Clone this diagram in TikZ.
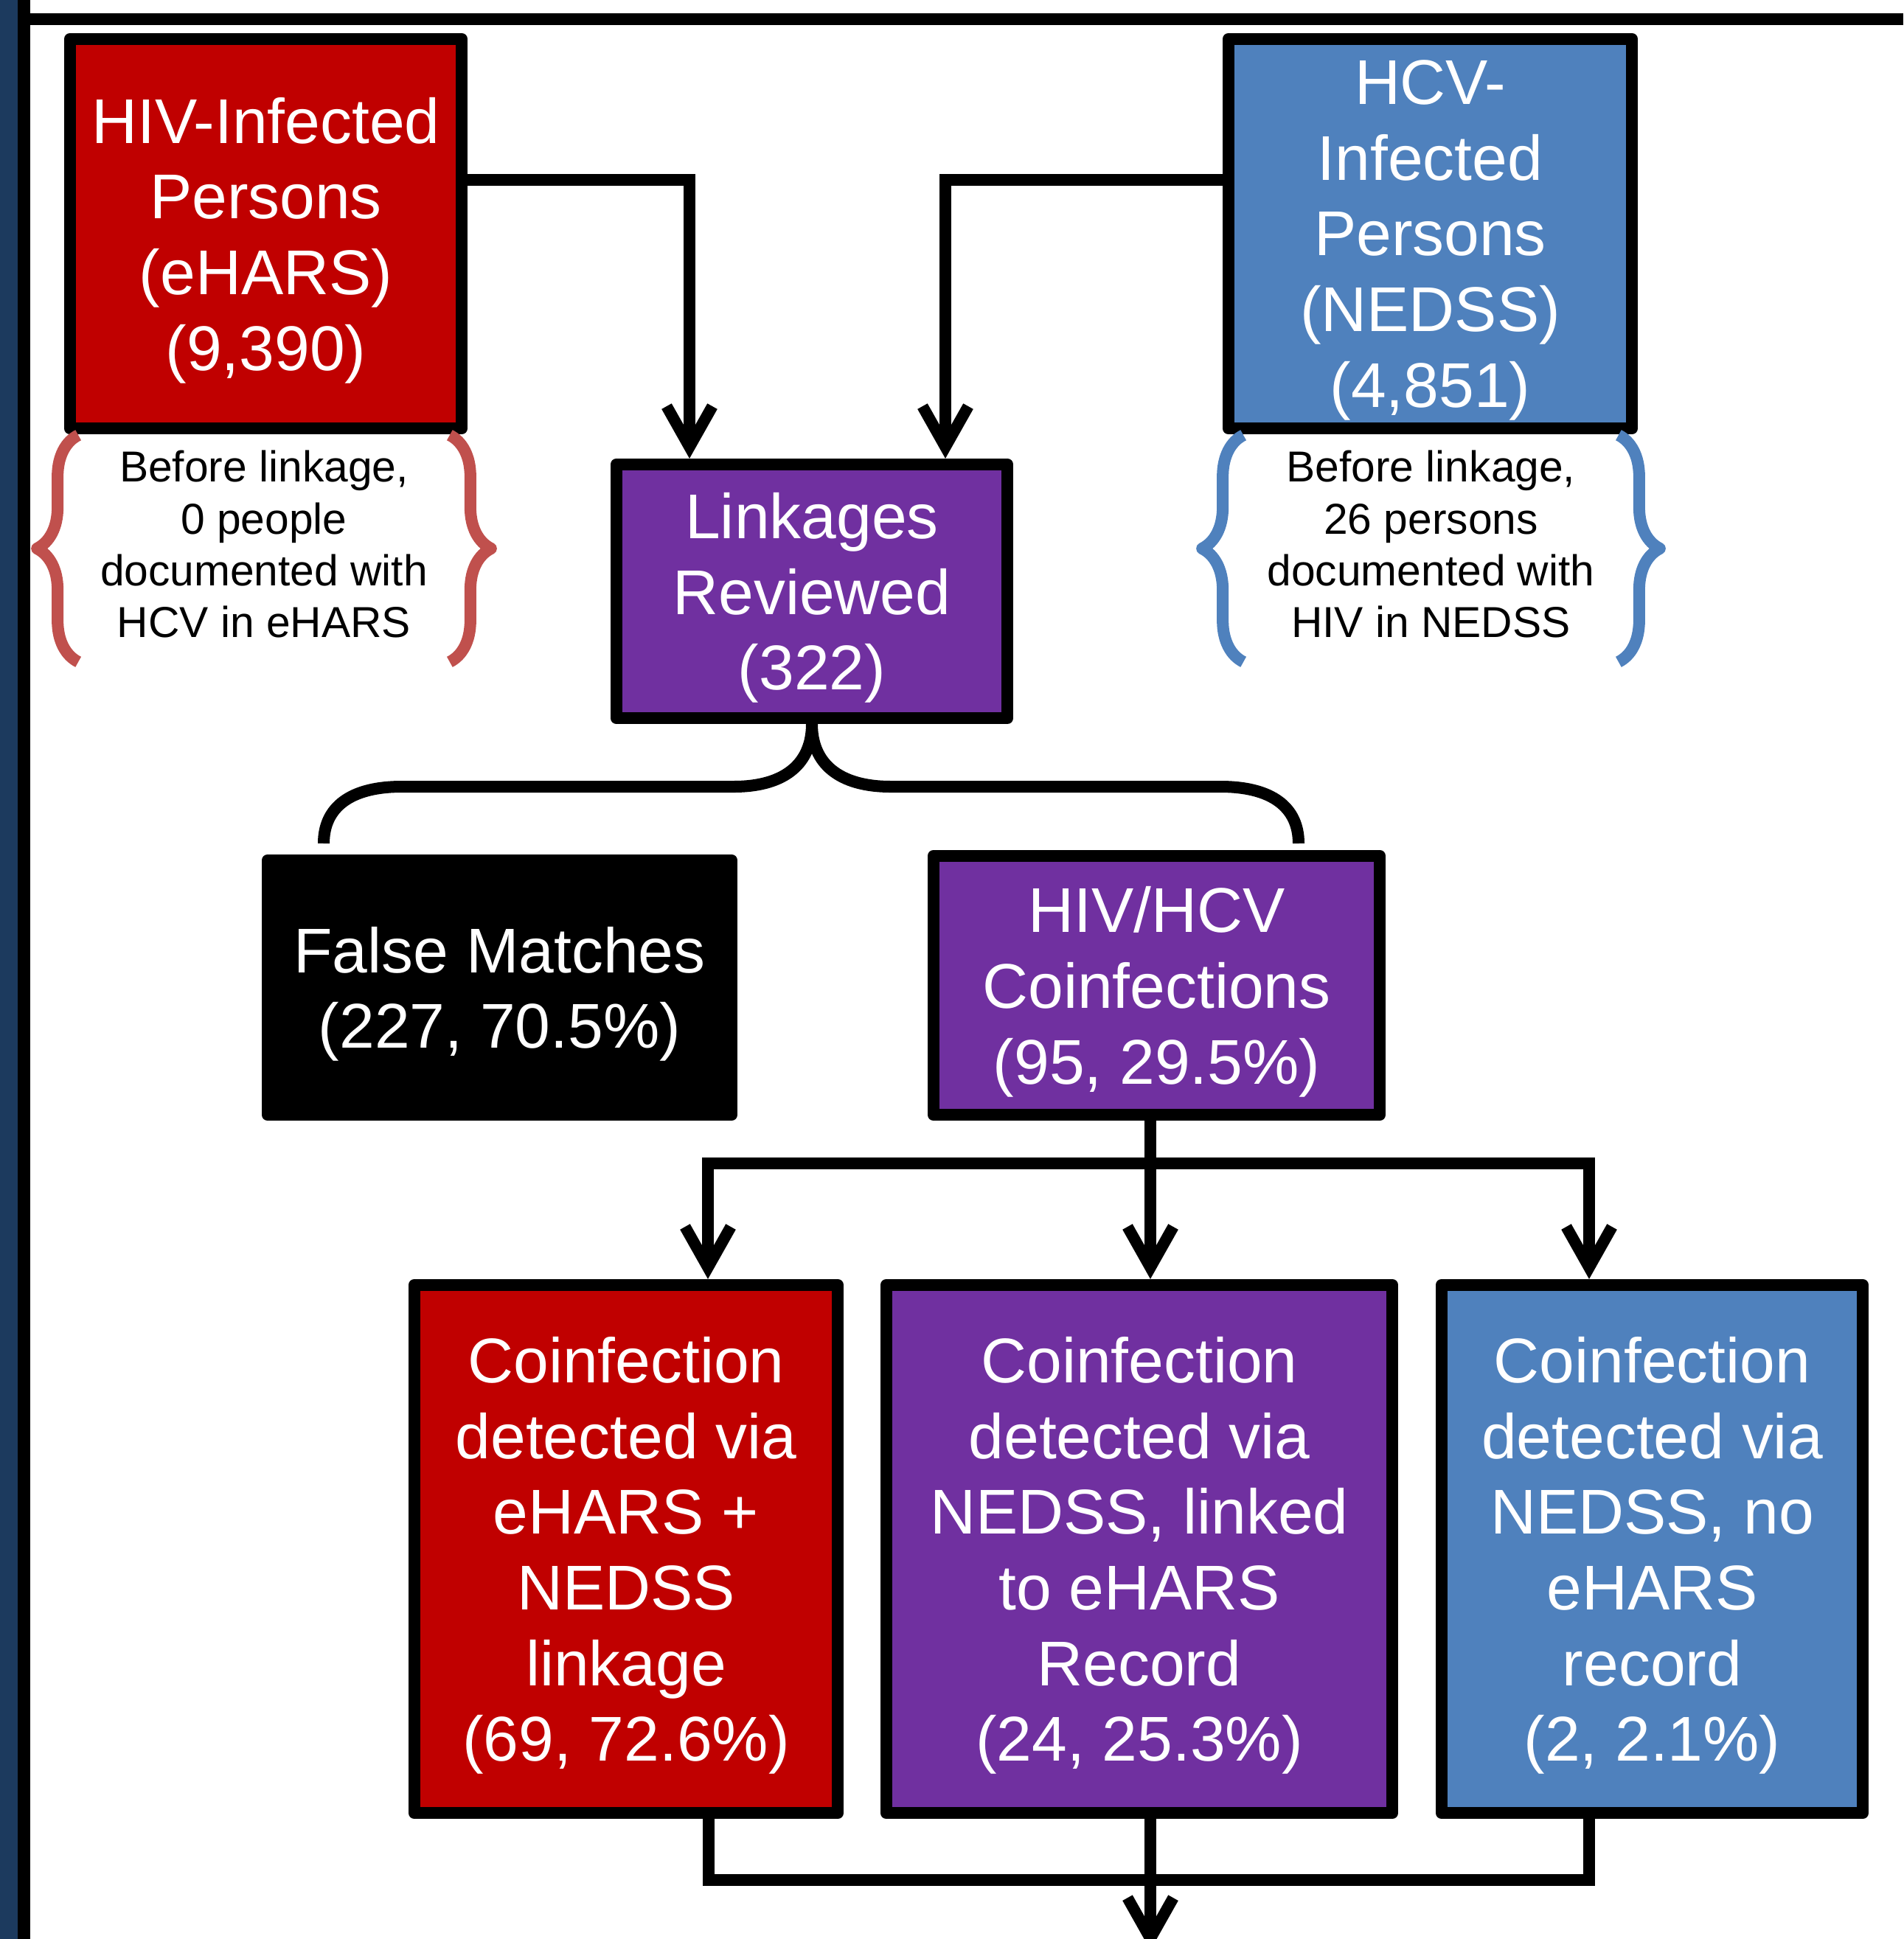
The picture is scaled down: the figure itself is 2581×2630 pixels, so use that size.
\documentclass[tikz,border=0pt]{standalone}
\usepackage{fontspec}
\setmainfont{Liberation Sans}
\usetikzlibrary{arrows.meta,decorations.pathreplacing}
\definecolor{hivred}{HTML}{C00000}
\definecolor{hcvblue}{HTML}{4F81BD}
\definecolor{linkpurple}{HTML}{7030A0}
\definecolor{notered}{HTML}{C0504D}
\definecolor{barblue}{HTML}{1C3A5E}

\begin{document}
\begin{tikzpicture}[x=0.01cm,y=-0.01cm,
    box/.style={draw=black,line width=0.16cm,line join=round,inner sep=0pt,align=center,text=white,
        font=\fontsize{24.4}{29.2}\selectfont,text depth=0pt},
    note/.style={inner sep=0pt,align=center,minimum height=3.06cm,font=\fontsize{16.7}{20}\selectfont,
        execute at end node={\rule[-3.4pt]{0pt}{0pt}}},
    notebrace/.style={decorate,decoration={brace,amplitude=0.56cm},line width=0.16cm,line join=round},
    flow/.style={line width=0.155cm,-{Straight Barb[length=0.55cm,width=0.62cm]}},
    joinline/.style={line width=0.155cm},
    fork/.style={line width=0.16cm}]
    \useasboundingbox (0,0) rectangle (2581,2630);
    \fill[barblue] (0,0) rectangle (24,2630);
    \fill[black] (24,0) rectangle (41,2630);
    \fill[black] (41,18) rectangle (2581,34);

    \node[box,fill=hivred,minimum width=5.31cm,minimum height=5.28cm] (hiv) at (360.5,317) {HIV-Infected\\Persons\\(eHARS)\\(9,390)};
    \node[box,fill=hcvblue,minimum width=5.47cm,minimum height=5.28cm] (hcv) at (1939.5,317) {HCV-\\Infected\\Persons\\(NEDSS)\\(4,851)};
    \node[box,fill=linkpurple,minimum width=5.30cm,minimum height=3.44cm] (link) at (1101,802) {Linkages\\Reviewed\\(322)};
    \node[box,fill=black,minimum width=6.29cm,minimum height=3.45cm] (false) at (677.5,1339.5) {False Matches\\(227, 70.5\%)};
    \node[box,fill=linkpurple,minimum width=6.05cm,minimum height=3.51cm] (coinf) at (1568.5,1336.5) {HIV/HCV\\Coinfections\\(95, 29.5\%)};
    \node[box,fill=hivred,minimum width=5.74cm,minimum height=7.16cm] (viaboth) at (849,2101) {Coinfection\\detected via\\eHARS +\\NEDSS\\linkage\\(69, 72.6\%)};
    \node[box,fill=linkpurple,minimum width=6.86cm,minimum height=7.16cm] (vialink) at (1545,2101) {Coinfection\\detected via\\NEDSS, linked\\to eHARS\\Record\\(24, 25.3\%)};
    \node[box,fill=hcvblue,minimum width=5.71cm,minimum height=7.16cm] (vianedss) at (2240.5,2101) {Coinfection\\detected via\\NEDSS, no\\eHARS\\record\\(2, 2.1\%)};

    \node[note,minimum width=5.02cm] (notehiv) at (358,744) {Before linkage,\\0 people\\documented with\\HCV in eHARS};
    \node[note,minimum width=5.07cm] (notehcv) at (1940.5,744) {Before linkage,\\26 persons\\documented with\\HIV in NEDSS};
    \draw[notebrace,notered] (notehiv.south west) -- (notehiv.north west);
    \draw[notebrace,notered] (notehiv.north east) -- (notehiv.south east);
    \draw[notebrace,hcvblue] (notehcv.south west) -- (notehcv.north west);
    \draw[notebrace,hcvblue] (notehcv.north east) -- (notehcv.south east);

    \coordinate (jl) at (935,244);
    \coordinate (jr) at (1282,244);
    \draw[flow] (hiv.east |- jl) -| (link.north -| jl);
    \draw[flow] (hcv.west |- jr) -| (link.north -| jr);

    \coordinate (forkl) at (439,1144);
    \coordinate (forkr) at (1761,1144);
    \draw[fork] (forkl) .. controls (439,1095) and (475,1067) .. (545,1067) -- (995,1067)
        .. controls (1065,1067) and (1101,1035) .. (link.south)
        .. controls (1101,1035) and (1137,1067) .. (1208,1067) -- (1655,1067)
        .. controls (1725,1067) and (1761,1095) .. (forkr);

    \coordinate (splitl) at (960,1578);
    \coordinate (splitm) at (1560,1578);
    \coordinate (splitr) at (2155,1578);
    \draw[flow] (coinf.south -| splitm) -- (vialink.north -| splitm);
    \draw[flow] (splitm) -| (splitl |- viaboth.north);
    \draw[flow] (splitm) -| (splitr |- vianedss.north);

    \coordinate (mergel) at (961,2550);
    \coordinate (mergem) at (1560,2550);
    \coordinate (merger) at (2155,2550);
    \coordinate (out) at (1560,2645);
    \draw[joinline] (viaboth.south -| mergel) |- (mergem) -| (vianedss.south -| merger);
    \draw[flow] (vialink.south -| mergem) -- (out);
\end{tikzpicture}
\end{document}
